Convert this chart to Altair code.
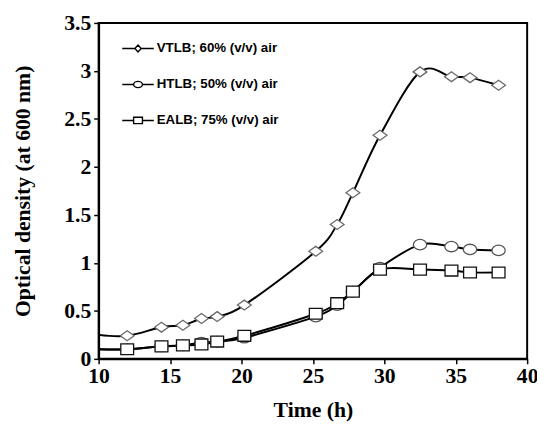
import altair as alt
import pandas as pd

# ---------------- data ----------------
series_names = ["VTLB; 60% (v/v) air", "HTLB; 50% (v/v) air", "EALB; 75% (v/v) air"]
time_h = [12.0, 14.4, 15.9, 17.2, 18.3, 20.2, 25.2, 26.7, 27.8, 29.7, 32.5, 34.7, 36.0, 38.0]
vtlb = [0.24, 0.33, 0.35, 0.42, 0.44, 0.56, 1.12, 1.40, 1.73, 2.33, 2.99, 2.94, 2.93, 2.85]
htlb = [0.10, 0.13, 0.14, 0.17, 0.18, 0.22, 0.44, 0.56, 0.70, 0.95, 1.19, 1.17, 1.14, 1.13]
ealb = [0.10, 0.13, 0.14, 0.15, 0.18, 0.24, 0.47, 0.58, 0.70, 0.93, 0.93, 0.92, 0.90, 0.90]
# the curves enter the plot from the left axis
start_time = 10.0
start_values = [0.25, 0.10, 0.10]

x_ticks = [10, 15, 20, 25, 30, 35, 40]
y_ticks = [0, 0.5, 1, 1.5, 2, 2.5, 3, 3.5]

# ---------------- tables ----------------
pts = []
for name, vals in zip(series_names, [vtlb, htlb, ealb]):
    for t, v in zip(time_h, vals):
        pts.append({"series": name, "time": t, "od": v})
pts_df = pd.DataFrame(pts)

line_rows = list(pts)
for name, v0 in zip(series_names, start_values):
    line_rows.append({"series": name, "time": start_time, "od": v0})
line_df = pd.DataFrame(line_rows)

# marker shapes (slightly wide, as in the original)
plot_shapes = [
    "M-1,0L0,-0.72L1,0L0,0.72Z",
    "M-1,0A1,0.78 0 1,0 1,0A1,0.78 0 1,0 -1,0Z",
    "M-1,-0.85H1V0.85H-1Z",
]
marker_sizes = [196, 169, 121]
marker_strokes = ["#6a6a6a", "#555555", "#111111"]

legend_shapes = [
    "M-1,0H-0.2M0.2,0H1M-0.2,0L0,-0.22L0.2,0L0,0.22Z",
    "M-1,0H-0.28M0.28,0H1M-0.28,0A0.28,0.2 0 1,0 0.28,0A0.28,0.2 0 1,0 -0.28,0Z",
    "M-1,0H-0.28M0.28,0H1M-0.28,-0.2H0.28V0.2H-0.28Z",
]

x_enc = alt.X("time:Q", scale=alt.Scale(domain=[10, 40], nice=False),
              axis=alt.Axis(values=x_ticks, title="Time (h)"))
y_enc = alt.Y("od:Q", scale=alt.Scale(domain=[0, 3.5], nice=False),
              axis=alt.Axis(values=y_ticks, format="~g", title="Optical density (at 600 nm)"))

# legend carrier: tiny symbols hidden under the white markers
legend_layer = alt.Chart(pts_df).mark_point(
    filled=False, stroke="black", strokeWidth=1.4
).encode(
    x=x_enc, y=y_enc,
    shape=alt.Shape(
        "series:N",
        scale=alt.Scale(domain=series_names, range=legend_shapes),
        legend=alt.Legend(
            title=None, orient="none", legendX=23, legendY=9, padding=0,
            symbolSize=1024, symbolStrokeColor="black",
            symbolStrokeWidth=1.4, symbolOpacity=1, rowPadding=12.5, labelOffset=2,
            labelFont="Liberation Sans", labelFontSize=13.5, labelFontWeight="bold",
            labelColor="black", labelLimit=300,
        ),
    ),
)

lines = alt.Chart(line_df).mark_line(
    interpolate="cardinal", color="black", strokeWidth=2
).encode(x=x_enc, y=y_enc, detail="series:N")

markers = alt.Chart(pts_df).mark_point(
    filled=True, fill="white", strokeWidth=1.3, opacity=1
).encode(
    x=x_enc, y=y_enc,
    shape=alt.Shape("series:N", scale=alt.Scale(domain=series_names, range=plot_shapes), legend=None),
    size=alt.Size("series:N", scale=alt.Scale(domain=series_names, range=marker_sizes), legend=None),
    stroke=alt.Stroke("series:N", scale=alt.Scale(domain=series_names, range=marker_strokes), legend=None),
)

chart = alt.layer(legend_layer, lines, markers).resolve_scale(
    shape="independent", size="independent", stroke="independent"
).properties(
    width=435, height=341,
    autosize=alt.AutoSizeParams(type="none"),
    padding={"left": 92, "top": 12, "right": 10, "bottom": 64},
).configure_view(
    stroke="black", strokeWidth=2
).configure_axis(
    grid=False, labelFlush=False,
    domainColor="black", domainWidth=2,
    tickColor="black", tickWidth=1.5, tickSize=5,
    labelFont="Liberation Serif", labelFontSize=22, labelFontWeight="bold", labelColor="black",
    titleFont="Liberation Serif", titleFontSize=22, titleFontWeight="bold", titleColor="black",
).configure_axisX(
    labelPadding=2, titlePadding=14
).configure_axisY(
    labelPadding=3, titlePadding=30
)

chart.save("out.html", embed_options={"renderer": "svg", "actions": False})
